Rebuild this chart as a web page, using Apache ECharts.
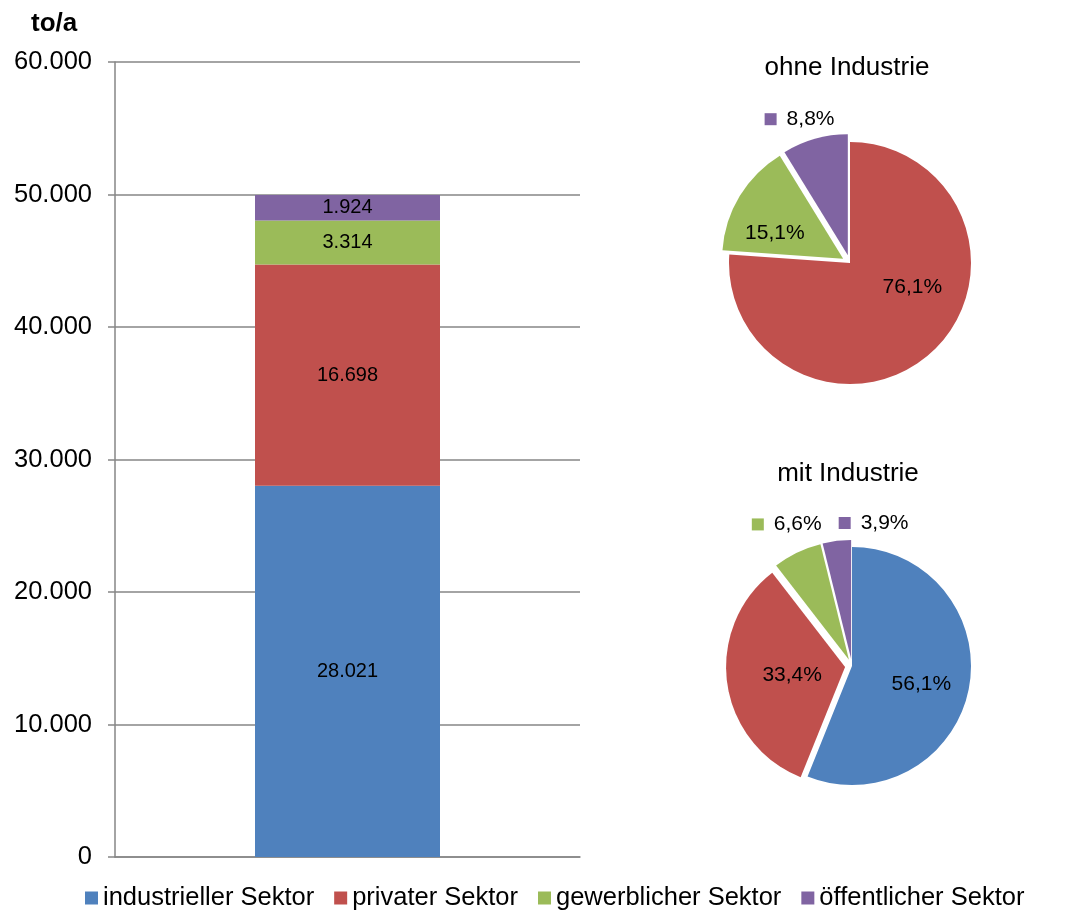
<!DOCTYPE html>
<html>
<head>
<meta charset="utf-8">
<script src="https://cdn.jsdelivr.net/npm/echarts@6/dist/echarts.min.js"></script>
<style>html,body{margin:0;padding:0;background:#fff}#c{width:1072px;height:913px}</style>
</head>
<body>
<div id="c"></div>
<script>
const sectors = ['industrieller Sektor', 'privater Sektor', 'gewerblicher Sektor', 'öffentlicher Sektor'];
const colors = ['#4F81BD', '#C0504D', '#9BBB59', '#8064A2'];
const barValues = [28021, 16698, 3314, 1924];
const yTicks = [0, 10000, 20000, 30000, 40000, 50000, 60000];
const pieOhneNames = ['privater Sektor', 'gewerblicher Sektor', 'öffentlicher Sektor'];
const pieOhneValues = [16698, 3314, 1924];
const pieMitNames = ['industrieller Sektor', 'privater Sektor', 'gewerblicher Sektor', 'öffentlicher Sektor'];
const pieMitValues = [28021, 16698, 3314, 1924];
const titles = ['to/a', 'ohne Industrie', 'mit Industrie'];

const FONT = '"Liberation Sans", Arial, sans-serif';
function de(v) { return String(v).replace(/\B(?=(\d{3})+(?!\d))/g, '.'); }
function pct(p) { return p.toFixed(1).replace('.', ',') + '%'; }

// label placement tweaks (style only)
const ohneOutside = [false, false, true];
const ohneShift = [[19, -22], [-14, 7], [-31, -75]];
const ohneSel = [false, true, true];
const mitOutside = [false, false, true, true];
const mitShift = [[8, 6], [9, 0], [-35, -79], [30, -74]];
const mitSel = [false, true, true, true];

function pieData(names, values, sel, outside) {
  return names.map((n, i) => ({
    name: n, value: values[i], selected: sel[i],
    itemStyle: { color: colors[sectors.indexOf(n)] },
    label: outside[i] ? {
      formatter: p => '{m|}{t|' + pct(p.percent) + '}',
      rich: {
        m: { width: 12, height: 12, backgroundColor: colors[sectors.indexOf(n)] },
        t: { fontSize: 21, fontFamily: FONT, color: '#000', padding: [0, 0, 0, 10] }
      }
    } : {}
  }));
}

const series = sectors.map((s, i) => ({
  name: s, type: 'bar', stack: 'total', barWidth: 185,
  itemStyle: { color: colors[i] },
  label: { show: true, position: 'inside', color: '#000', fontSize: 20, fontFamily: FONT, formatter: p => de(p.value) },
  data: [barValues[i]]
}));

series.push({
  type: 'pie', center: [850, 263], radius: 121, startAngle: 90, clockwise: true,
  selectedMode: 'multiple', selectedOffset: 8, percentPrecision: 1, animation: false,
  label: { show: true, position: 'inside', color: '#000', fontSize: 21, fontFamily: FONT, formatter: p => pct(p.percent) },
  labelLine: { show: false },
  labelLayout: p => ({ dx: ohneShift[p.dataIndex][0], dy: ohneShift[p.dataIndex][1] }),
  emphasis: { disabled: true },
  data: pieData(pieOhneNames, pieOhneValues, ohneSel, ohneOutside)
});
series.push({
  type: 'pie', center: [852, 666], radius: 119, startAngle: 90, clockwise: true,
  selectedMode: 'multiple', selectedOffset: 7, percentPrecision: 1, animation: false,
  label: { show: true, position: 'inside', color: '#000', fontSize: 21, fontFamily: FONT, formatter: p => pct(p.percent) },
  labelLine: { show: false },
  labelLayout: p => ({ dx: mitShift[p.dataIndex][0], dy: mitShift[p.dataIndex][1] }),
  emphasis: { disabled: true },
  data: pieData(pieMitNames, pieMitValues, mitSel, mitOutside)
});

const chart = echarts.init(document.getElementById('c'), null, { renderer: 'canvas' });
chart.setOption({
  animation: false,
  textStyle: { fontFamily: FONT },
  title: [
    { text: titles[0], left: 26, top: 6, textStyle: { fontSize: 26, fontWeight: 'bold', color: '#000', fontFamily: FONT } },
    { text: titles[1], left: 842, textAlign: 'center', top: 50, textStyle: { fontSize: 26, fontWeight: 'normal', color: '#000', fontFamily: FONT } },
    { text: titles[2], left: 843, textAlign: 'center', top: 456, textStyle: { fontSize: 26, fontWeight: 'normal', color: '#000', fontFamily: FONT } }
  ],
  legend: {
    data: sectors, left: 80, top: 880, itemWidth: 13, itemHeight: 13, itemGap: 20, icon: 'rect',
    textStyle: { fontSize: 25.5, color: '#000', fontFamily: FONT }, selectedMode: false
  },
  grid: { left: 115, right: 492, top: 62, bottom: 56, containLabel: false },
  xAxis: {
    type: 'category', data: ['Summe'],
    axisLine: { lineStyle: { color: '#868686', width: 1.5 } },
    axisTick: { show: false }, axisLabel: { show: false }
  },
  yAxis: {
    type: 'value', min: yTicks[0], max: yTicks[yTicks.length - 1], interval: yTicks[1] - yTicks[0],
    axisLine: { show: true, lineStyle: { color: '#868686', width: 1.5 } },
    axisTick: { show: true, length: 7, lineStyle: { color: '#868686', width: 1.5 } },
    splitLine: { lineStyle: { color: '#868686', width: 1.5 } },
    axisLabel: { fontSize: 25.5, color: '#000', margin: 23, fontFamily: FONT, formatter: v => de(v) }
  },
  series: series
});
</script>
</body>
</html>
